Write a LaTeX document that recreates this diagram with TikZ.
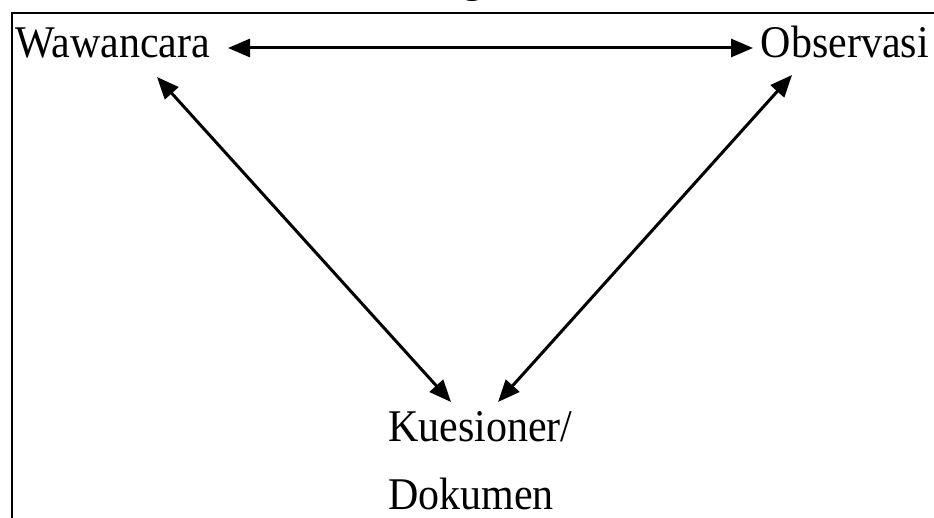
\documentclass[tikz,border=0pt]{standalone}
\usepackage{fontspec}
\setmainfont{Liberation Serif}
\usetikzlibrary{arrows.meta}
\newcommand{\tallword}[1]{\scalebox{1}[1.08]{#1}}
\begin{document}
\begin{tikzpicture}[x=1pt,y=-1pt,
  lbl/.style={inner sep=0pt, anchor=base west, font=\fontsize{42}{50}\selectfont},
  frameline/.style={line width=1.8pt, black},
  arr/.style={line width=3pt, {Triangle[length=22pt,width=18pt]}-{Triangle[length=22pt,width=18pt]}}
]
\useasboundingbox (0,0) rectangle (934,518);
% clipped tail of a caption line sitting above the frame
\begin{scope}
  \clip (0,0) rectangle (934,518);
  \node[lbl, anchor=base] (cap) at (473,-7) {g};
\end{scope}
% frame: top and left rules
\coordinate (fl) at (12,518);
\coordinate (ftl) at (12,13);
\coordinate (fr) at (934,13);
\draw[frameline] (fl) -- (ftl) -- (fr);
% labels
\node[lbl] (w) at (15,58) {\tallword{Wawancara}};
\node[lbl, anchor=base east] (o) at (929,58) {\tallword{Observasi}};
\node[lbl] (k1) at (388,441) {\tallword{Kuesioner/}};
\node[lbl] (k2) at (388,509) {\tallword{Dokumen}};
% arrow ends
\coordinate (wR) at (228,48);
\coordinate (oL) at (753,48);
\coordinate (wB) at (157,77);
\coordinate (kL) at (451,402);
\coordinate (oB) at (792,75);
\coordinate (kR) at (498,402);
% connectors
\draw[arr] (wR) -- (oL);
\draw[arr] (wB) -- (kL);
\draw[arr] (oB) -- (kR);
\end{tikzpicture}
\end{document}
